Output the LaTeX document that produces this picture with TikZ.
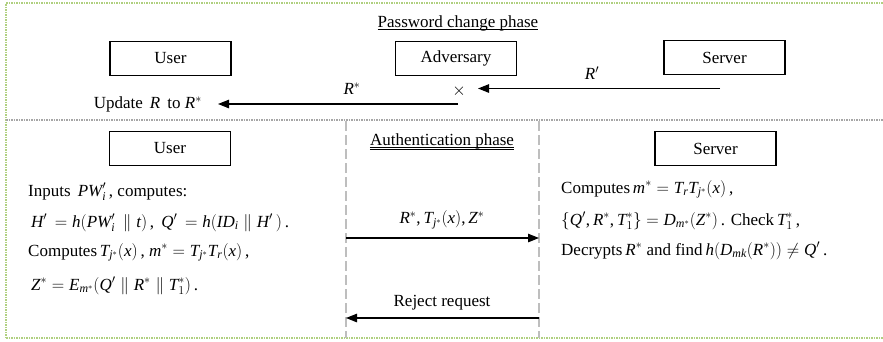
\documentclass[tikz,border=0pt]{standalone}
\usepackage{fontspec}
\setmainfont{Liberation Serif}
% italic math letters taken from the Times-like text face
\DeclareSymbolFont{letters}{TU}{\rmdefault}{m}{it}
\mathcode`\,="602C
\mathcode`\.="002E
\newcommand{\cat}{\mathrel{\|}}
\usetikzlibrary{arrows.meta}
\definecolor{framegreen}{RGB}{176,208,128}
\definecolor{sepgrey}{RGB}{165,165,165}
\definecolor{lifegrey}{RGB}{190,190,190}
\begin{document}
\begin{tikzpicture}[x=1pt,y=-1pt,
  font=\fontsize{17}{20}\selectfont,
  actor/.style={draw,line width=1.2pt,minimum width=121pt,minimum height=34pt,inner sep=0},
  msg/.style={line width=1.1pt,-{Triangle[length=11pt,width=8.5pt]}},
  txt/.style={anchor=base west,inner sep=0},
  lbl/.style={inner sep=0},
  frameline/.style={draw=framegreen,line width=1.2pt,dash pattern=on 1.5pt off 1pt},
  sepline/.style={draw=sepgrey,line width=1.2pt,dash pattern=on 1.5pt off 1pt},
  lifeline/.style={draw=lifegrey,line width=1.5pt,dash pattern=on 10pt off 4pt}]
\useasboundingbox (0,0) rectangle (883,341);

% frame and phase separator
\draw[frameline] (6,338) -- (6,3) -- (884,3);
\draw[frameline] (6,338) -- (884,338);
\draw[sepline] (6,120) -- (884,120);

% ---- password change phase ----
\node[lbl,anchor=base] (t1) at (458,27) {Password change phase};
\draw[line width=0.7pt] ([yshift=-2.5pt]t1.base west) -- ([yshift=-2.5pt]t1.base east);

\node[actor] (u1) at (170.5,58.5) {User};
\node[actor] (a1) at (456,58.5) {Adversary};
\node[actor] (s1) at (724.5,57.5) {Server};

\coordinate (s1out) at (720,88.5);
\coordinate (xhit) at (478,88.5);
\node[lbl] (cross) at (459,91) {$\times$};
\draw[msg] (s1out) -- (xhit);
\node[lbl] (rp) at (592,73) {$R^{\prime}$};

\coordinate (xout) at (458,104);
\coordinate (updin) at (218,104);
\node[lbl,anchor=east] (upd) at (202,104.5) {Update \,$R$\, to $R^*$};
\draw[msg] (xout) -- (updin);
\node[lbl] (rs) at (352,89) {$R^*$};

% ---- authentication phase ----
\node[actor] (u2) at (170,148.5) {User};
\node[actor] (s2) at (715.5,148.5) {Server};

\coordinate (la) at (346,121);
\coordinate (lae) at (346,338);
\coordinate (lb) at (539,121);
\coordinate (lbe) at (539,338);
\draw[lifeline] (la) -- (lae);
\draw[lifeline] (lb) -- (lbe);

\node[lbl,anchor=base] (t2) at (442,145.5) {Authentication phase};
\draw[line width=0.6pt] ([yshift=-2pt]t2.base west) -- ([yshift=-2pt]t2.base east);
\draw[line width=0.6pt] ([yshift=-4pt]t2.base west) -- ([yshift=-4pt]t2.base east);

\coordinate (m1s) at (346,238);
\coordinate (m1e) at (539,238);
\draw[msg] (m1s) -- (m1e);
\node[lbl] (m1l) at (442,220) {$R^*,T_{j^*}(x),Z^*$};

\coordinate (m2s) at (539,318);
\coordinate (m2e) at (346,318);
\draw[msg] (m2s) -- (m2e);
\node[lbl] (m2l) at (442,303) {Reject request};

% user computations
\node[txt] (ul1) at (28,196) {Inputs \,$PW_i^{\prime}$\,, computes:};
\node[txt] (ul2) at (31,227) {$H^{\prime}\,=h(PW_i^{\prime}\,\cat t)$\,, \,$Q^{\prime}\,=h(ID_i\cat H^{\prime}\,)$\,.};
\node[txt] (ul3) at (28,256) {Computes\,$T_{j^*}(x)$\,, $m^*=T_{j^*}T_r(x)$\,,};
\node[txt] (ul4) at (31,290) {$Z^*=E_{m^*}(Q^{\prime}\cat R^*\cat T_1^*)$\,.};

% server computations
\node[txt] (sl1) at (561,193) {Computes\,$m^*=T_rT_{j^*}(x)$\,,};
\node[txt] (sl2) at (561,225) {$\{Q^{\prime},R^*,T_1^*\}=D_{m^*}(Z^*)$\,. Check\,$T_1^*$\,,};
\node[txt] (sl3) at (561,255) {Decrypts\,$R^*$ and find\,$h(D_{mk}(R^*))\neq Q^{\prime}$\,.};
\end{tikzpicture}
\end{document}
